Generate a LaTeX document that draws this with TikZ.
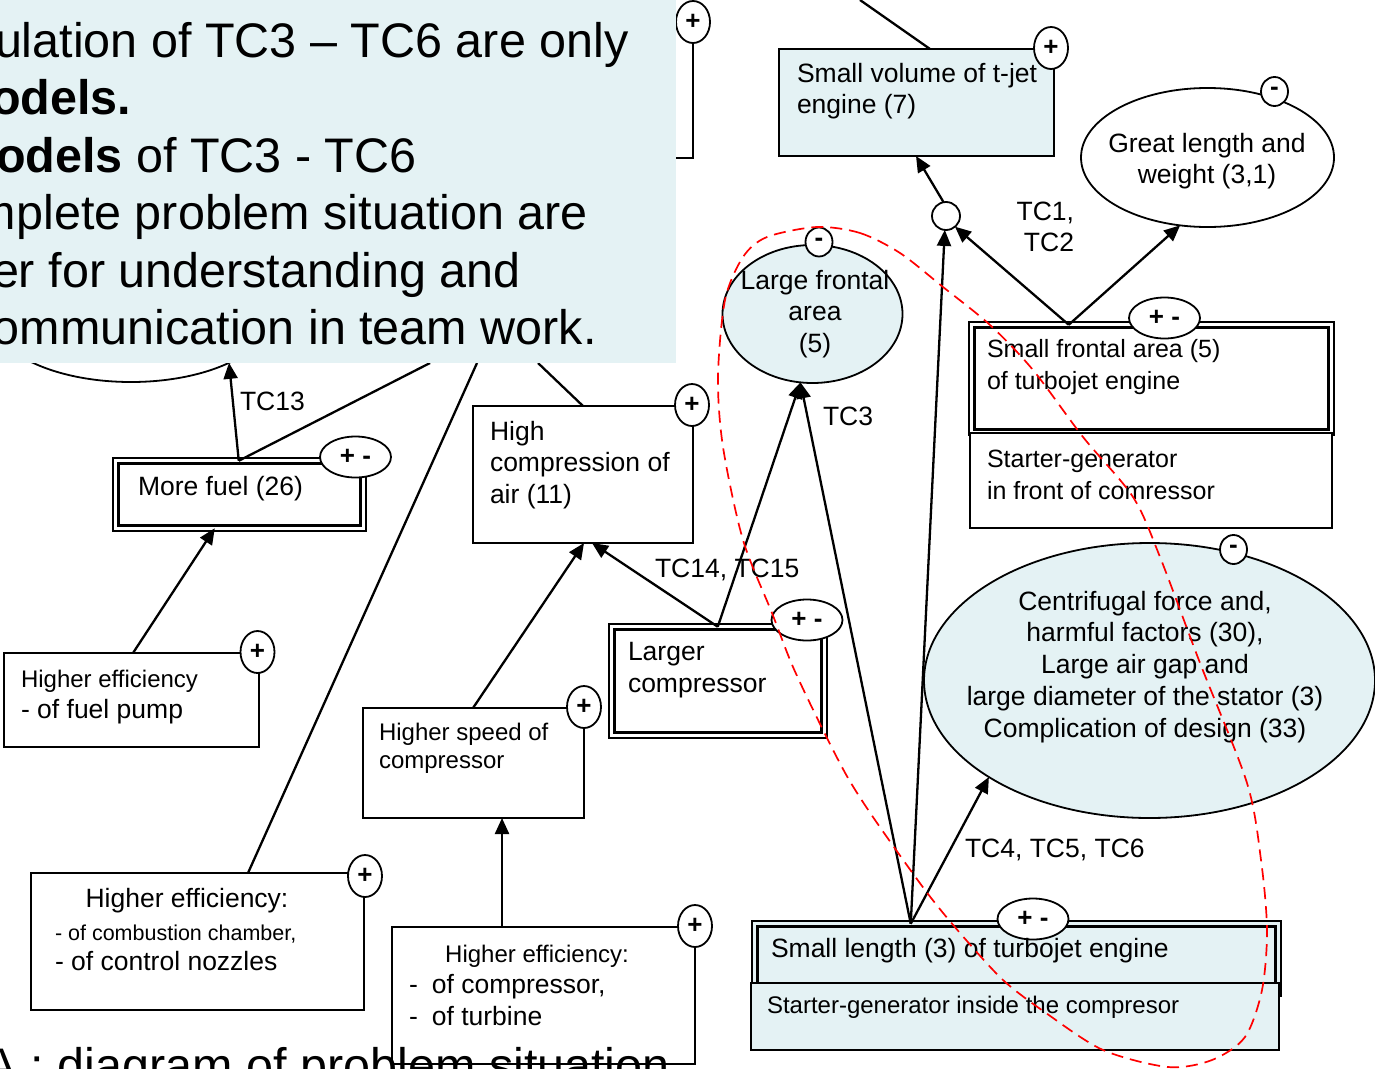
\documentclass[tikz,border=0pt]{standalone}
\usepackage{fontspec}
\setmainfont{Liberation Sans}
\usetikzlibrary{arrows.meta,shapes.geometric}
\definecolor{paleblue}{HTML}{E4F2F4}
\newcommand{\txtrows}[2][l]{\begin{tabular}[t]{@{}#1@{}}#2\end{tabular}}
\begin{document}
\begin{tikzpicture}[x=1pt,y=-1pt,
  box/.style={rectangle, draw, line width=1.8pt, fill=white, inner sep=0pt, outer sep=0pt},
  dbox/.style={rectangle, draw, line width=2.5pt, double=white, double distance=2.6pt, fill=white, inner sep=0pt, outer sep=0pt},
  oval/.style={ellipse, draw, line width=1.8pt, inner sep=0pt, outer sep=0pt},
  plusm/.style={ellipse, draw, line width=1.8pt, fill=white, minimum width=34pt, minimum height=42pt, inner sep=0pt, outer sep=0pt, font=\bfseries\fontsize{26}{26}\selectfont},
  minusm/.style={ellipse, draw, line width=1.8pt, fill=white, minimum width=27pt, minimum height=29pt, inner sep=0pt, outer sep=0pt, font=\bfseries\fontsize{26}{26}\selectfont},
  pmm/.style={ellipse, draw, line width=1.8pt, fill=white, minimum width=71pt, minimum height=41pt, inner sep=0pt, outer sep=0pt, font=\bfseries\fontsize{26}{26}\selectfont},
  conn/.style={line width=2.3pt},
  arr/.style={conn, -{Triangle[length=16pt,width=14pt]}},
  lbl/.style={inner sep=0pt, outer sep=0pt, anchor=base west, font=\fontsize{26.5}{31.5}\selectfont},
  smalltxt/.style={font=\fontsize{24}{28}\selectfont},
  big/.style={inner sep=0pt, outer sep=0pt, anchor=base west, font=\fontsize{48.5}{57.5}\selectfont}
]
\useasboundingbox (0,0) rectangle (1375,1068);
\fill[white] (0,0) rectangle (1375,1068);

% shapes that lie mostly under the text panel
\node[oval, fill=white, minimum width=280pt, minimum height=134pt] (hidell) at (131,315) {};
\node[box, minimum width=223pt, minimum height=136pt] (hidbox) at (581.5,90) {};

% boxes
\node[box, fill=paleblue, minimum width=275pt, minimum height=107pt] (smallvol) at (916.5,102.5) {};
\node[box, minimum width=220pt, minimum height=137pt] (highcomp) at (583,474.5) {};
\node[box, minimum width=221pt, minimum height=110pt] (speed) at (473.5,763) {};
\node[box, minimum width=303pt, minimum height=137pt] (effcomp) at (543.5,995.5) {};
\node[box, minimum width=333pt, minimum height=137pt] (comb) at (197.5,941.5) {};
\node[box, minimum width=255pt, minimum height=94pt] (pump) at (131.5,700) {};
\node[dbox, minimum width=247.5pt, minimum height=67.5pt] (morefuel) at (239.5,494.5) {};
\node[dbox, minimum width=212.5pt, minimum height=108.5pt] (larger) at (718,681) {};
\node[dbox, minimum width=359.5pt, minimum height=107.5pt] (smallfront) at (1151.5,378.5) {};
\node[box, minimum width=362pt, minimum height=95pt] (startfront) at (1151,480.5) {};
\node[dbox, double=paleblue, fill=paleblue, minimum width=523.5pt, minimum height=69.5pt] (smalllen) at (1016.5,958.5) {};
\node[box, fill=paleblue, minimum width=528pt, minimum height=67pt] (startin) at (1015,1016.5) {};

% ellipses
\node[oval, fill=white, minimum width=253pt, minimum height=139pt] (greatlen) at (1207.5,157.5) {};
\node[oval, fill=paleblue, minimum width=180pt, minimum height=138pt] (largefront) at (812.5,314) {};
\node[oval, fill=paleblue, minimum width=451pt, minimum height=275pt] (centri) at (1149.5,680.5) {};
\node[circle, draw, line width=1.8pt, fill=white, minimum size=28pt, inner sep=0pt, outer sep=0pt] (junc) at (946,216) {};

% connectors
\coordinate (fuelUp) at (430,363);
\coordinate (combUp) at (477,363);
\coordinate (hcUp) at (538,363);
\coordinate (svUp) at (860,0);
\draw[arr] ([xshift=129pt]pump.north west) -- ([xshift=99pt]morefuel.south west);
\draw[arr] ([xshift=123pt]morefuel.north west) -- (hidell.-26);
\draw[conn] ([xshift=123pt]morefuel.north west) -- (fuelUp);
\draw[arr] ([xshift=110pt]speed.north west) -- ([xshift=111pt]highcomp.south west);
\draw[arr] ([xshift=106pt]larger.north west) -- ([xshift=119pt]highcomp.south west);
\draw[arr] ([xshift=106pt]larger.north west) -- (largefront.-100);
\draw[arr] ([xshift=156pt]smalllen.north west) -- (largefront.-100);
\draw[arr] ([xshift=156pt]smalllen.north west) -- (junc.-95);
\draw[arr] ([xshift=156pt]smalllen.north west) -- (centri.211);
\draw[arr] (junc.100) -- ([xshift=137pt]smallvol.south west);
\draw[arr] ([xshift=97pt]smallfront.north west) -- (junc.-50);
\draw[arr] ([xshift=97pt]smallfront.north west) -- (greatlen.-112);
\draw[conn] ([xshift=217pt]comb.north west) -- (combUp);
\draw[conn] ([xshift=110pt]highcomp.north west) -- (hcUp);
\draw[conn] ([xshift=151pt]smallvol.north west) -- (svUp);
\draw[arr] ([xshift=110pt]effcomp.north west) -- ([xshift=139pt]speed.south west);

% sign markers
\node[plusm] (m1) at (hidbox.north east) {+};
\node[plusm] (m2) at (1051,48) {+};
\node[minusm] (m3) at (1274.5,91.5) {-};
\node[pmm] (m4) at (1164.5,318) {+ -};
\node[minusm] (m5) at (819,242) {-};
\node[plusm] (m6) at (692,405) {+};
\node[pmm] (m7) at (355.5,457) {+ -};
\node[pmm] (m8) at (807,620) {+ -};
\node[minusm] (m9) at (1233.5,549.5) {-};
\node[plusm] (m10) at (257.5,652) {+};
\node[plusm] (m11) at (584,707) {+};
\node[plusm] (m12) at (365,876) {+};
\node[plusm] (m13) at (695,926) {+};
\node[pmm] (m14) at (1033,919) {+ -};

% texts
\node[lbl] (tsv) at (797,82) {\txtrows{Small volume of t-jet\\engine (7)}};
\node[lbl, anchor=base] (tgl) at (1207,152) {\txtrows[c]{Great length and\\weight (3,1)}};
\node[lbl, anchor=base east] (ttc12) at (1074,220) {\txtrows[r]{TC1,\\TC2}};
\node[lbl, font=\fontsize{25}{32}\selectfont] (tsf) at (987,357) {\txtrows{Small frontal area (5)\\of turbojet engine}};
\node[lbl, font=\fontsize{25}{32}\selectfont] (tsgf) at (987,467) {\txtrows{Starter-generator\\in front of comressor}};
\node[lbl, anchor=base] (tlf) at (815,289) {\txtrows[c]{Large frontal\\area\\(5)}};
\node[lbl] (ttc3) at (823,425) {TC3};
\node[lbl, font=\fontsize{26.5}{31.7}\selectfont] (thc) at (490,440) {\txtrows{High\\compression of\\air (11)}};
\node[lbl] (ttc1415) at (655,577) {TC14, TC15};
\node[lbl, font=\fontsize{26.5}{32}\selectfont] (tlc) at (628,660) {\txtrows{Larger\\compressor}};
\node[lbl, anchor=base, font=\fontsize{26.5}{31.75}\selectfont] (tcf) at (1145,610) {\txtrows[c]{Centrifugal force and,\\harmful factors (30),\\Large air gap and\\large diameter of the stator (3)\\Complication of design (33)}};
\node[lbl] (ttc456) at (965,857) {TC4, TC5, TC6};
\node[lbl] (tsl) at (771,957) {Small length (3) of turbojet engine};
\node[lbl, smalltxt] (tsgi) at (767,1013) {Starter-generator inside the compresor};
\node[lbl] (tmf) at (138,495) {More fuel (26)};
\node[lbl] (ttc13) at (240,410) {TC13};
\node[lbl, smalltxt] (tpump1) at (21,687) {Higher efficiency};
\node[lbl] (tpump2) at (21,718) {- of fuel pump};
\node[lbl, smalltxt] (tspeed) at (379,740) {\txtrows{Higher speed of\\compressor}};
\node[lbl, anchor=base] (tcomb1) at (187,907) {Higher efficiency:};
\node[lbl, font=\fontsize{21.5}{25}\selectfont] (tcomb2) at (55,940) {- of combustion chamber,};
\node[lbl] (tcomb3) at (55,970) {- of control nozzles};
\node[lbl, anchor=base, smalltxt] (teff1) at (537,962) {Higher efficiency:};
\node[lbl] (teff2) at (409,993) {-\hspace{14pt}of compressor,};
\node[lbl] (teff3) at (409,1025) {-\hspace{14pt}of turbine};

% text panel in the upper left corner
\fill[paleblue] (0,0) rectangle (676,363);
\node[big] (ov1) at (-5,57) {ulation of TC3 – TC6 are only};
\node[big] (ov2) at (-9,114) {\textbf{odels.}};
\node[big] (ov3) at (-4,172) {\textbf{odels} of TC3 - TC6};
\node[big] (ov4) at (-24,229) {mplete problem situation are};
\node[big] (ov5) at (-8,287) {er for understanding and};
\node[big] (ov6) at (-7,344) {ommunication in team work.};

% caption at the bottom edge
\node[big] (caption) at (-15,1082) {A : diagram of problem situation};

% dashed red boundary
\draw[red, line width=1.7pt, dash pattern=on 12pt off 7pt] plot[smooth cycle, tension=0.5] coordinates {
  (817,227) (860,233) (900,253) (943,287) (990,325) (1033,370) (1083,437)
  (1133,497) (1160,557) (1200,663) (1247,783) (1261,860) (1267,930)
  (1262,990) (1245,1037) (1212,1060) (1168,1067) (1103,1050) (1046,1013)
  (1003,980) (960,933) (925,890) (875,820) (848,778) (823,730) (793,667)
  (772,613) (743,540) (723,447) (718,377) (725,300) (743,257) (767,237)};
\end{tikzpicture}
\end{document}
